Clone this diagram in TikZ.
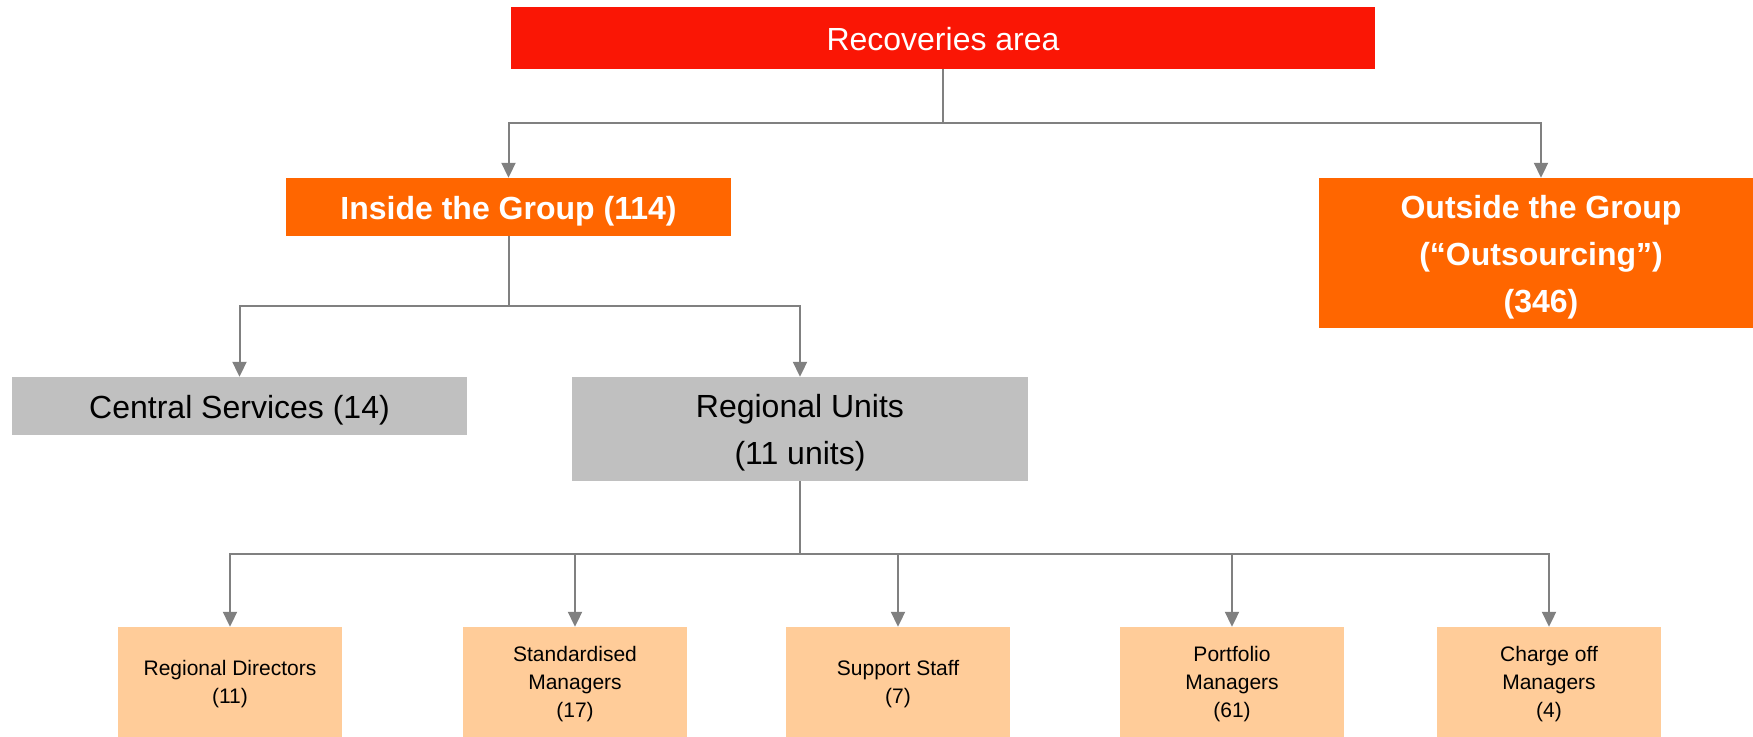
\documentclass[tikz,border=0pt]{standalone}
\usepackage{fontspec}
\setmainfont{Liberation Sans}
\usetikzlibrary{arrows.meta}
\definecolor{topred}{HTML}{FA1605}
\definecolor{midorange}{HTML}{FF6600}
\definecolor{unitgray}{HTML}{C0C0C0}
\definecolor{staffpeach}{HTML}{FFCC99}
\definecolor{linkgray}{HTML}{808080}
\begin{document}
\begin{tikzpicture}[x=1pt,y=-1pt,
  box/.style={rectangle, inner sep=0pt, align=center},
  bigtext/.style={font=\fontsize{32}{47}\selectfont},
  smalltext/.style={font=\fontsize{21}{28}\selectfont},
  % box captions sit slightly below the geometric centre
  caption/.style={inner sep=0pt, align=center, yshift=-4pt},
  topbox/.style={box, fill=topred, minimum width=864pt, minimum height=62pt},
  groupbox/.style={box, fill=midorange},
  unitbox/.style={box, fill=unitgray, minimum width=456pt},
  staffbox/.style={box, smalltext, fill=staffpeach, text=black, minimum width=224pt, minimum height=115pt},
  whitecap/.style={caption, bigtext, text=white, yshift=3pt},
  boldcap/.style={caption, font=\fontsize{32}{47}\selectfont\bfseries, text=white},
  blackcap/.style={caption, bigtext, text=black},
  link/.style={draw=linkgray, line width=2pt},
  arrowlink/.style={link, -{Triangle[length=15pt,width=14pt]}}
]
\useasboundingbox (0,0) rectangle (1753,736);

% top level
\node[topbox, label={[whitecap]center:Recoveries area}] (rec) at (943,38) {};

% second level
\node[groupbox, minimum width=445pt, minimum height=58pt,
  label={[boldcap]center:Inside the Group (114)}] (inside) at (508.5,207) {};
\node[groupbox, minimum width=444pt, minimum height=150pt,
  label={[boldcap]center:Outside the Group\\(“Outsourcing”)\\(346)}] (outside) at (1541,253) {};

% third level
\node[unitbox, minimum width=455pt, minimum height=58pt,
  label={[blackcap]center:Central Services (14)}] (central) at (239.5,406) {};
\node[unitbox, minimum height=104pt,
  label={[blackcap]center:Regional Units\\(11 units)}] (regional) at (800,429) {};

% staff categories
\node[staffbox] (dir) at (230,684.5) {Regional Directors\\(11)};
\node[staffbox] (std) at (575,684.5) {Standardised\\Managers\\(17)};
\node[staffbox] (sup) at (898,684.5) {Support Staff\\(7)};
\node[staffbox] (port) at (1232,684.5) {Portfolio\\Managers\\(61)};
\node[staffbox] (chg) at (1549,684.5) {Charge off\\Managers\\(4)};

% junction points of the tree
\coordinate (j1) at (943,123);
\coordinate (j2) at (508.5,306);
\coordinate (j3) at (800,554);

% connectors
\draw[link] (rec.south) -- (j1);
\draw[arrowlink] (j1) -| (inside.north);
\draw[arrowlink] (j1) -| (outside.north);

\draw[link] (inside.south) -- (j2);
\draw[arrowlink] (j2) -| (central.north);
\draw[arrowlink] (j2) -| (regional.north);

\draw[link] (regional.south) -- (j3);
\foreach \n in {dir,std,sup,port,chg}
  \draw[arrowlink] (j3) -| (\n.north);
\end{tikzpicture}
\end{document}
